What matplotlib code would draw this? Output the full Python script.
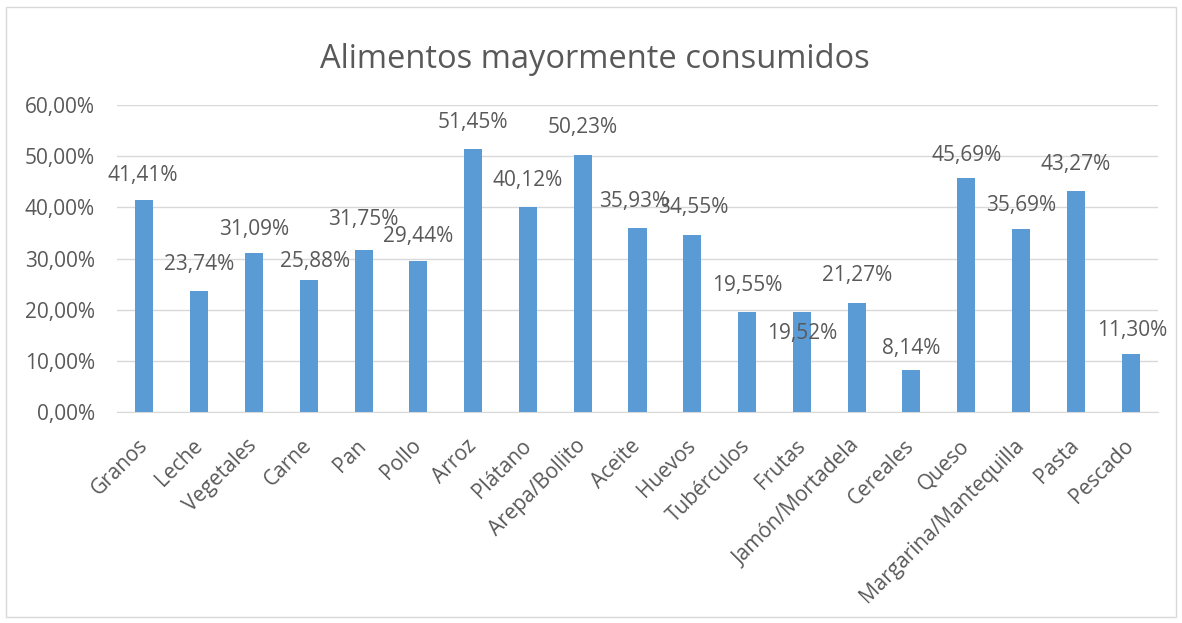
import matplotlib
matplotlib.use("Agg")
import matplotlib.pyplot as plt
from matplotlib.patches import Rectangle
from matplotlib.ticker import FuncFormatter

categories = ["Granos", "Leche", "Vegetales", "Carne", "Pan", "Pollo", "Arroz",
              "Plátano", "Arepa/Bollito", "Aceite", "Huevos", "Tubérculos",
              "Frutas", "Jamón/Mortadela", "Cereales", "Queso",
              "Margarina/Mantequilla", "Pasta", "Pescado"]
values = [41.41, 23.74, 31.09, 25.88, 31.75, 29.44, 51.45, 40.12, 50.23, 35.93,
          34.55, 19.55, 19.52, 21.27, 8.14, 45.69, 35.69, 43.27, 11.30]
title = "Alimentos mayormente consumidos"

# label offsets (pixels) relative to the bar top, mimicking the hand-placed labels
label_dx = [-2, 0, 0, 6, 0, 0, 0, 0, 0, -3, 1, 0, 0, 0, 0, 0, 0, 0, 2]
label_dy = [25, 26, 23, 18, 30, 25, 26, 26, 27, 27, 28, 26, -21, 28, 22, 23, 24, 26, 24]

plt.rcParams['font.family'] = ['Open Sans', 'DejaVu Sans']
txt = '#595959'
grid = '#D9D9D9'
bar_color = '#5B9BD5'
fs = 15

fig = plt.figure(figsize=(11.82, 6.23), dpi=100)
fig.patches.append(Rectangle((6/1182, 6/623), 1 - 12/1182, 1 - 13/623,
                             transform=fig.transFigure, fill=False,
                             edgecolor='#D9D9D9', linewidth=1))
ax = fig.add_axes([117/1182, 1 - 412/623, (1158 - 117)/1182, (412 - 105)/623])

x = list(range(len(categories)))
ax.bar(x, values, width=0.33, color=bar_color, zorder=3)
ax.set_xlim(-0.5, len(categories) - 0.5)
ax.set_ylim(0, 60)
ax.set_yticks(range(0, 61, 10))
ax.yaxis.set_major_formatter(FuncFormatter(lambda v, p: f"{v:.2f}%".replace('.', ',')))
ax.grid(axis='y', color=grid, linewidth=1, zorder=0)
for s in ['top', 'right', 'left']:
    ax.spines[s].set_visible(False)
ax.spines['bottom'].set_color(grid)
ax.tick_params(axis='both', length=0, colors=txt, labelsize=fs)
ax.tick_params(axis='y', pad=16)
ax.set_xticks(x)
ax.set_xticklabels(categories, rotation=45, ha='right', va='center',
                   rotation_mode='anchor')
ax.tick_params(axis='x', pad=22)

for xi, v, dx, dy in zip(x, values, label_dx, label_dy):
    ax.annotate(f"{v:.2f}%".replace('.', ','), (xi, v), xytext=(dx, dy),
                textcoords='offset pixels', ha='center', va='center',
                fontsize=fs, color=txt, zorder=4)

fig.text(595/1182, 1 - 68/623, title, ha='center', va='baseline', fontsize=23.5, color=txt)

fig.savefig('out.png', dpi=100)
